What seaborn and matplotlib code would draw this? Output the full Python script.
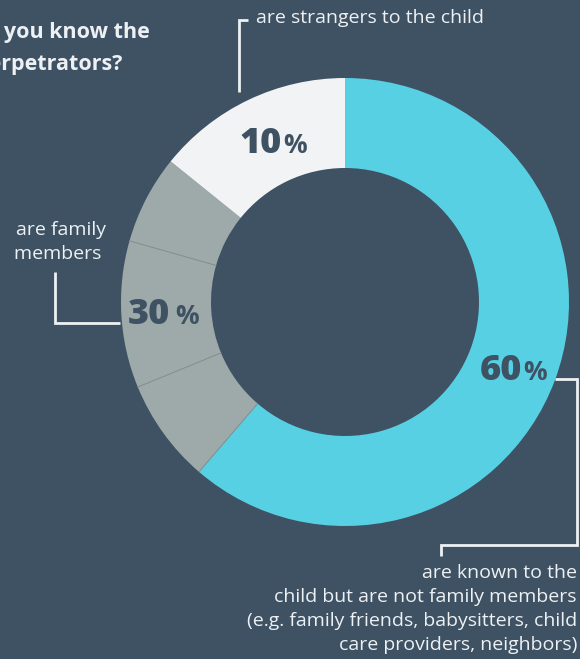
import numpy as np
import matplotlib
matplotlib.use("Agg")
import matplotlib.pyplot as plt
import seaborn as sns

# ---- data ----
categories = ["known, not family", "family (a)", "family (b)", "family (c)", "strangers"]
shares_drawn = [61.3, 7.5, 10.6, 6.4, 14.2]     # arc shares as drawn in the reference
pct_labels = ["60", "30", "10"]                  # printed percentages
group_desc = [
    "are known to the\nchild but are not family members\n(e.g. family friends, babysitters, child\ncare providers, neighbors)",
    "are family\nmembers ",
    "are strangers to the child",
]
title_lines = ["Do you know the", "perpetrators?"]

BG = "#3e5263"
CYAN = "#58d0e3"
GRAY = "#9eaaa9"
LIGHT = "#f2f3f5"
WHITE = "#eef1f4"
colors = [CYAN, GRAY, GRAY, GRAY, LIGHT]

sns.set_theme(style="white")
plt.rcParams["font.family"] = ["Open Sans", "DejaVu Sans"]

W, H = 580, 659
fig = plt.figure(figsize=(W / 100, H / 100), dpi=100, facecolor=BG)
ax = fig.add_axes([0, 0, 1, 1])
ax.set_facecolor(BG)

def Y(y):
    return H - y

cx, cy, R, ring = 345, Y(302), 224, 90

wedges, _ = ax.pie(shares_drawn, colors=colors, startangle=90, counterclock=False,
                   center=(cx, cy), radius=R,
                   wedgeprops=dict(width=ring, linewidth=0))

# thin dividers between the gray sub-slices (angles from cumulative data)
cum = np.cumsum(shares_drawn)
for c in cum[:3]:
    ang = np.deg2rad(90 - c / 100 * 360)
    r0, r1 = R - ring, R
    ax.plot([cx + r0 * np.cos(ang), cx + r1 * np.cos(ang)],
            [cy + r0 * np.sin(ang), cy + r1 * np.sin(ang)],
            color="#84918f", lw=0.7, zorder=3)

ax.set_xlim(0, W)
ax.set_ylim(0, H)
ax.set_aspect("equal")
ax.axis("off")

# percentage labels
def pct(x, y, num, gap=1, big=26, small=19):
    ax.text(x, Y(y), num, fontsize=big, fontweight="heavy", color=BG,
            ha="right", va="baseline", zorder=5)
    ax.text(x + gap, Y(y), "%", fontsize=small, fontweight="bold", color=BG,
            ha="left", va="baseline", zorder=5)

pct(282, 153, pct_labels[2])
pct(170, 324, pct_labels[1], gap=5)
pct(522, 380, pct_labels[0])

# title (clipped at left edge as in the reference)
ax.text(-31, Y(38), title_lines[0], fontsize=15.5, fontweight="bold", color=WHITE,
        ha="left", va="baseline")
ax.text(-25, Y(70), title_lines[1], fontsize=15.5, fontweight="bold", color=WHITE,
        ha="left", va="baseline")

# descriptions
FS = 14
ax.text(256, Y(18), group_desc[2], fontsize=FS, color=WHITE, ha="left", va="center")
ax.text(106, Y(242), group_desc[1], fontsize=FS, color=WHITE, ha="right", va="center",
        multialignment="right", linespacing=1.45)
ax.text(577, Y(609), group_desc[0], fontsize=FS, color=WHITE, ha="right", va="center",
        multialignment="right", linespacing=1.45)

# bracket connectors
lc = dict(color=WHITE, lw=2, solid_capstyle="butt", solid_joinstyle="miter", zorder=4)
ax.plot([248, 239, 239], [Y(20), Y(20), Y(92)], **lc)
ax.plot([55, 55, 120], [Y(272), Y(323), Y(323)], **lc)
ax.plot([555, 577, 577, 441, 441], [Y(379), Y(379), Y(545), Y(545), Y(556)], **lc)

fig.savefig("out.png", dpi=100, facecolor=BG)
